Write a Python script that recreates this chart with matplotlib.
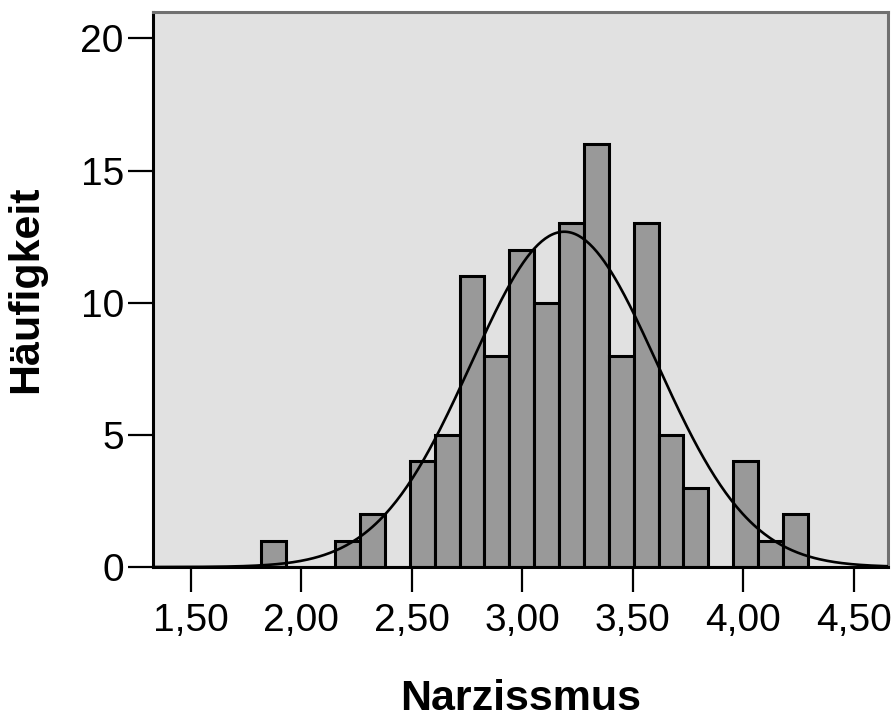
import matplotlib
matplotlib.use("Agg")
import matplotlib.pyplot as plt
import numpy as np

# Histogram data (counts per bin)
counts = [1, 0, 0, 1, 2, 0, 4, 5, 11, 8, 12, 10, 13, 16, 8, 13, 5, 3, 0, 4, 1, 2]
bin_start = 1.817
bin_width = 0.1125

# normal curve parameters
mean = 3.19
sd = 0.421

xticks = [1.5, 2.0, 2.5, 3.0, 3.5, 4.0, 4.5]
yticks = [0, 5, 10, 15, 20]

plt.rcParams['font.family'] = ['Liberation Sans', 'DejaVu Sans']

fig = plt.figure(figsize=(8.96, 7.18), dpi=100)
ax = fig.add_axes([0.1708, 0.2103, 0.8202, 0.773])
ax.set_facecolor('#e1e1e1')

lefts = bin_start + bin_width * np.arange(len(counts))
ax.bar(lefts, counts, width=bin_width, align='edge',
       color='#999999', edgecolor='black', linewidth=2.2, zorder=2)

# fitted normal curve
n = sum(counts)
xs = np.linspace(1.33, 4.655, 400)
ys = n * bin_width / (sd * np.sqrt(2 * np.pi)) * np.exp(-0.5 * ((xs - mean) / sd) ** 2)
ax.plot(xs, ys, color='black', linewidth=1.9, zorder=3)

ax.set_xlim(1.33, 4.655)
ax.set_ylim(0, 21)
ax.set_xticks(xticks)
ax.set_xticklabels([('%.2f' % t).replace('.', ',') for t in xticks])
ax.set_yticks(yticks)

ax.tick_params(axis='both', direction='out', length=18, width=1.6,
               labelsize=28, color='black')
ax.tick_params(axis='x', pad=8)
ax.tick_params(axis='y', pad=3)

for s in ['left', 'bottom']:
    ax.spines[s].set_color('black')
    ax.spines[s].set_linewidth(2.2)
for s in ['top', 'right']:
    ax.spines[s].set_color('#707070')
    ax.spines[s].set_linewidth(2.2)

ax.set_xlabel('Narzissmus', fontsize=31, fontweight='bold', labelpad=29)
ax.set_ylabel('Häufigkeit', fontsize=31, fontweight='bold', labelpad=25)

fig.savefig('out.png', dpi=100)
